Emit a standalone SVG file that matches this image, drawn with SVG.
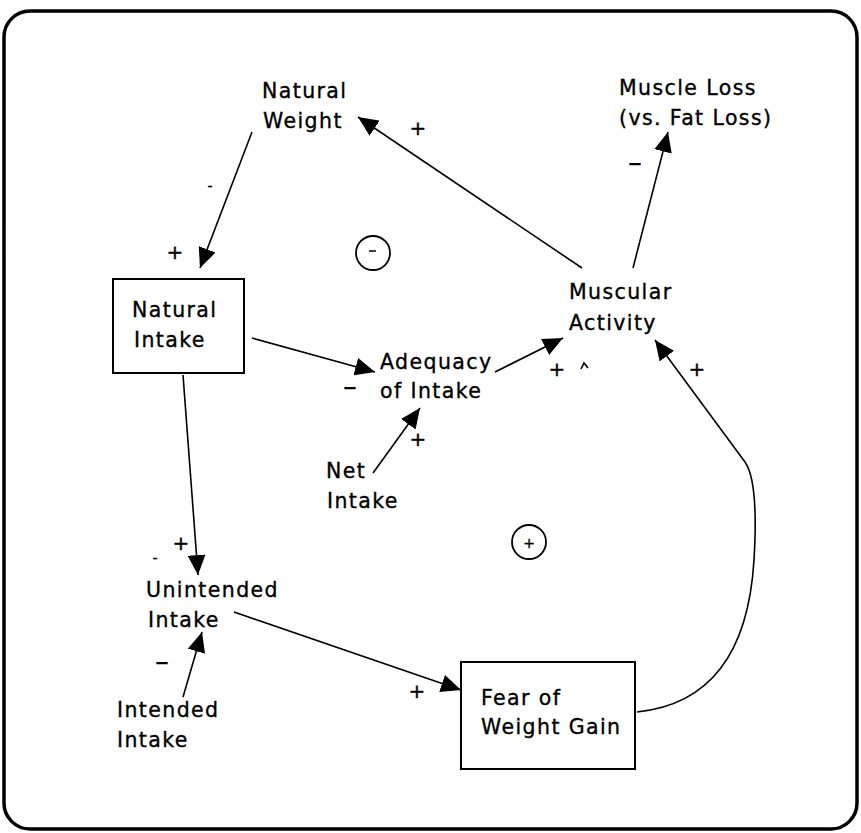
<svg xmlns="http://www.w3.org/2000/svg" width="861" height="833" viewBox="0 0 861 833">
<style>
text{font-family:"DejaVu Sans","Liberation Sans",sans-serif;font-size:20.5px;letter-spacing:1.4px;fill:#000;stroke:#000;stroke-width:0.35}
.sg{font-size:20px;letter-spacing:0}
.dash{font-size:27px;letter-spacing:0}
.box{fill:#fff;stroke:#000;stroke-width:2}
.c{fill:none;stroke:#000;stroke-width:1.6}
.loop{fill:none;stroke:#000;stroke-width:1.8}
</style>
<defs>
<marker id="ah" markerUnits="userSpaceOnUse" markerWidth="22" markerHeight="18" refX="20" refY="9" orient="auto">
<path d="M0,0 L20,9 L0,18 Z" fill="#000"/>
</marker>
</defs>
<rect x="4" y="11" width="853" height="818" rx="26" fill="#fff" stroke="#000" stroke-width="3.5"/>
<g id="connectors">
<path class="c" d="M252,132 L200,268" marker-end="url(#ah)"/>
<path class="c" d="M582,268 L358,117" marker-end="url(#ah)"/>
<path class="c" d="M633,268 L668,132" marker-end="url(#ah)"/>
<path class="c" d="M252,338 L375,372" marker-end="url(#ah)"/>
<path class="c" d="M495,372 L563,338" marker-end="url(#ah)"/>
<path class="c" d="M373,473 L420,408" marker-end="url(#ah)"/>
<path class="c" d="M183,375 L198,575" marker-end="url(#ah)"/>
<path class="c" d="M183,697 L202,632" marker-end="url(#ah)"/>
<path class="c" d="M234,612 L461,690" marker-end="url(#ah)"/>
<path class="c" d="M637,712 C705,705 748,660 754,560 C757,510 754,475 745,462 L655,340" marker-end="url(#ah)"/>
<path class="c" d="M581,369 L584,363 L588,368"/>
</g>
<g id="loop-minus">
<circle class="loop" cx="373" cy="253" r="17"/>
<line x1="369" y1="251" x2="376" y2="251" stroke="#000" stroke-width="1.5"/>
</g>
<g id="loop-plus">
<circle class="loop" cx="529" cy="542" r="17"/>
<text class="sg" x="529" y="548" text-anchor="middle" style="font-size:14px">+</text>
</g>
<g id="natural-weight">
<text x="262" y="98">Natural</text>
<text x="263" y="128">Weight</text>
</g>
<g id="muscle-loss">
<text x="619" y="95">Muscle Loss</text>
<text x="619" y="125">(vs. Fat Loss)</text>
</g>
<g id="natural-intake">
<rect class="box" x="113" y="279" width="131" height="94"/>
<text x="132" y="317">Natural</text>
<text x="134" y="347">Intake</text>
</g>
<g id="muscular-activity">
<text x="569" y="299">Muscular</text>
<text x="569" y="330">Activity</text>
</g>
<g id="adequacy">
<text x="380" y="369">Adequacy</text>
<text x="380" y="398">of Intake</text>
</g>
<g id="net-intake">
<text x="326" y="478">Net</text>
<text x="327" y="508">Intake</text>
</g>
<g id="unintended-intake">
<text x="146" y="597">Unintended</text>
<text x="148" y="627">Intake</text>
</g>
<g id="intended-intake">
<text x="117" y="717">Intended</text>
<text x="117" y="747">Intake</text>
</g>
<g id="fear">
<rect class="box" x="461" y="662" width="174" height="107"/>
<text x="481" y="705">Fear of</text>
<text x="481" y="734">Weight Gain</text>
</g>
<g id="labels">
<text class="sg" x="210" y="191" text-anchor="middle" style="font-size:14px">-</text>
<text class="sg" x="175" y="259" text-anchor="middle">+</text>
<text class="sg" x="418" y="135" text-anchor="middle">+</text>
<text class="dash" x="635" y="171" text-anchor="middle">–</text>
<text class="dash" x="350" y="395" text-anchor="middle">–</text>
<text class="sg" x="557" y="376" text-anchor="middle">+</text>
<text class="sg" x="697" y="376" text-anchor="middle">+</text>
<text class="sg" x="418" y="446" text-anchor="middle">+</text>
<text class="sg" x="181" y="550" text-anchor="middle">+</text>
<text class="sg" x="155" y="563" text-anchor="middle" style="font-size:14px">-</text>
<text class="dash" x="162" y="670" text-anchor="middle">–</text>
<text class="sg" x="417" y="698" text-anchor="middle">+</text>
</g>
</svg>
